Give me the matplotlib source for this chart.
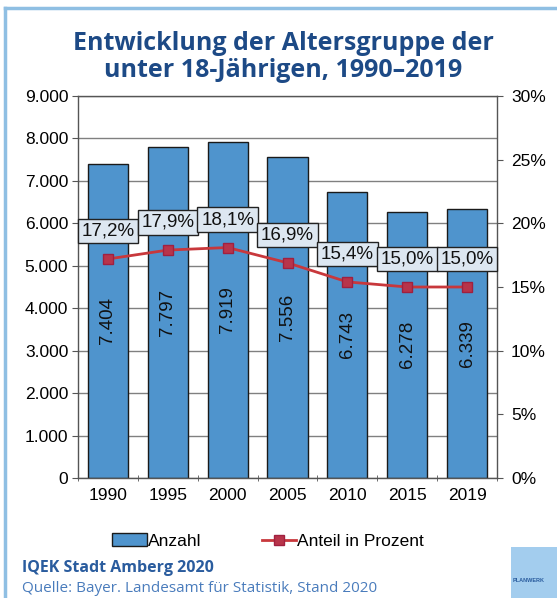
import matplotlib.pyplot as plt
import matplotlib.patches as mpatches
from matplotlib.lines import Line2D
import numpy as np

# data
years = ['1990', '1995', '2000', '2005', '2010', '2015', '2019']
anzahl = [7404, 7797, 7919, 7556, 6743, 6278, 6339]
anteil = [17.2, 17.9, 18.1, 16.9, 15.4, 15.0, 15.0]

left_ticks = [0, 1000, 2000, 3000, 4000, 5000, 6000, 7000, 8000, 9000]
right_ticks = [0, 5, 10, 15, 20, 25, 30]

bar_color = '#4f94cd'
line_color = '#c8383c'
title_color = '#1d4a86'

W, H = 557, 598
fig = plt.figure(figsize=(W / 100, H / 100), dpi=100)
plt.rcParams['font.family'] = ['Liberation Sans', 'DejaVu Sans']

ax = fig.add_axes([78 / W, 1 - 478 / H, (497 - 78) / W, (478 - 96) / H])
x = np.arange(len(years))

bars = ax.bar(x, anzahl, width=0.67, color=bar_color, edgecolor='#1a1a1a',
              linewidth=1.0, zorder=2)
ax.set_xlim(-0.5, len(years) - 0.5)
ax.set_ylim(0, 9000)
ax.set_yticks(left_ticks)
ax.set_yticklabels([f'{v:,}'.replace(',', '.') for v in left_ticks], fontsize=12.5)
ax.grid(axis='y', color='#808080', linewidth=1.0, zorder=0)
ax.set_axisbelow(True)

# category boundary ticks on x-axis, labels centered
ax.set_xticks(x)
ax.set_xticklabels(years, fontsize=12.5)
ax.tick_params(axis='x', length=0, pad=7)
ax.set_xticks(np.arange(-0.5, len(years)), minor=True)
ax.tick_params(axis='x', which='minor', length=4, direction='inout', color='#555555')
ax.tick_params(axis='y', length=4, direction='out', color='#555555', pad=3)
for s in ax.spines.values():
    s.set_color('#555555')
    s.set_linewidth(1.0)

for xi, v in zip(x, anzahl):
    ax.text(xi, v / 2, f'{v:,}'.replace(',', '.'), rotation=90, ha='center',
            va='center', fontsize=13.5, color='#111111', zorder=3)

ax2 = ax.twinx()
ax2.set_ylim(0, 30)
ax2.set_yticks(right_ticks)
ax2.set_yticklabels([f'{v}%' for v in right_ticks], fontsize=12.5)
ax2.tick_params(axis='y', length=4, direction='out', color='#555555', pad=6)
for s in ax2.spines.values():
    s.set_visible(False)
ax2.plot(x, anteil, color=line_color, linewidth=2, marker='s', markersize=7.5,
         markerfacecolor='#b8344a', markeredgecolor='#a02040', zorder=4)

for xi, v in zip(x, anteil):
    ax2.annotate(f'{v:.1f}%'.replace('.', ','), (xi, v), xytext=(0, 20),
                 textcoords='offset points', ha='center', va='center',
                 fontsize=13.5, color='#111111', zorder=5,
                 bbox=dict(boxstyle='square,pad=0.2', facecolor='#dde7f1',
                           edgecolor='#222222', linewidth=1.0))

fig.text(0.509, 1 - 57 / H, 'Entwicklung der Altersgruppe der\nunter 18-Jährigen, 1990–2019',
         ha='center', va='center', fontsize=18, fontweight='bold',
         color=title_color, family=['Open Sans', 'DejaVu Sans'], linespacing=1.12)

# legend
handles = [mpatches.Patch(facecolor=bar_color, edgecolor='#1a1a1a', label='Anzahl'),
           Line2D([], [], color=line_color, linewidth=2, marker='s', markersize=7.5,
                  markerfacecolor='#b8344a', markeredgecolor='#a02040',
                  label='Anteil in Prozent')]
fig.legend(handles=handles, loc='center', bbox_to_anchor=(268 / W, 1 - 541 / H),
           ncol=2, frameon=False, fontsize=12.5, handlelength=2.0, handletextpad=0.05,
           columnspacing=3.5)

# footer
fig.text(22 / W, 1 - 568 / H, 'IQEK Stadt Amberg 2020', fontsize=11.5, fontweight='bold',
         color='#2a5c9e', family=['Open Sans', 'DejaVu Sans'], va='center')
fig.text(22 / W, 1 - 588 / H, 'Quelle: Bayer. Landesamt für Statistik, Stand 2020',
         fontsize=11, color='#4a7cbc', family=['Open Sans', 'DejaVu Sans'], va='center')

# frame lines and logo
fig.add_artist(Line2D([5 / W, 5 / W], [0, 1 - 8 / H], color='#8fbfe3', linewidth=2.5,
                      transform=fig.transFigure))
fig.add_artist(Line2D([5 / W, 1], [1 - 8 / H, 1 - 8 / H], color='#8fbfe3', linewidth=2.5,
                      transform=fig.transFigure))
fig.add_artist(mpatches.Rectangle((511 / W, 0), 46 / W, 51 / H, facecolor='#a3cdee',
                                  edgecolor='none', transform=fig.transFigure))
fig.text(513 / W, 1 - 581 / H, 'PLANWERK', fontsize=4, color='#2a5c9e',
         fontweight='bold', va='center')

fig.savefig('out.png', dpi=100)
